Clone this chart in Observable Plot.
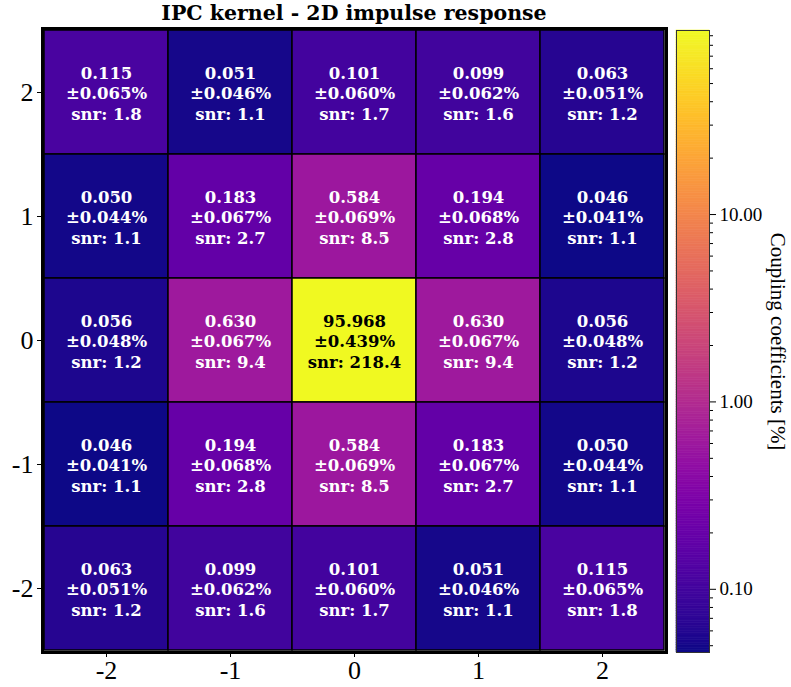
<!DOCTYPE html>
<html>
<head>
<meta charset="utf-8">
<script src="https://cdn.jsdelivr.net/npm/d3@7"></script>
<script src="https://cdn.jsdelivr.net/npm/@observablehq/plot@0.6"></script>
<style>
  html, body { margin: 0; padding: 0; background: white; }
  #wrap { position: relative; width: 791px; height: 687px; overflow: hidden; }
  #title { position: absolute; left: 42px; width: 624px; top: 3px; text-align: center; line-height: 1;
           font-family: "DejaVu Serif", serif; font-weight: bold; font-size: 20.5px; color: #000; }
  #main { position: absolute; left: 0; top: 0; }
  #cbar { position: absolute; left: 670px; top: 0; }
</style>
</head>
<body>
<div id="wrap">
  <div id="main"></div>
  <div id="cbar"></div>
  <div id="title">IPC kernel - 2D impulse response</div>
</div>
<script>
// ---- data (rows top to bottom: y = 2 .. -2; columns x = -2 .. 2) ----
const xCats = [-2, -1, 0, 1, 2];
const yCats = [2, 1, 0, -1, -2];
const coeffs = [
  [0.115, 0.051, 0.101, 0.099, 0.063],
  [0.050, 0.183, 0.584, 0.194, 0.046],
  [0.056, 0.630, 95.968, 0.630, 0.056],
  [0.046, 0.194, 0.584, 0.183, 0.050],
  [0.063, 0.099, 0.101, 0.051, 0.115]
];
const errs = [
  [0.065, 0.046, 0.060, 0.062, 0.051],
  [0.044, 0.067, 0.069, 0.068, 0.041],
  [0.048, 0.067, 0.439, 0.067, 0.048],
  [0.041, 0.068, 0.069, 0.067, 0.044],
  [0.051, 0.062, 0.060, 0.046, 0.065]
];
const snrs = [
  [1.8, 1.1, 1.7, 1.6, 1.2],
  [1.1, 2.7, 8.5, 2.8, 1.1],
  [1.2, 9.4, 218.4, 9.4, 1.2],
  [1.1, 2.8, 8.5, 2.7, 1.1],
  [1.2, 1.6, 1.7, 1.1, 1.8]
];
const cbarMajorTicks = [0.1, 1, 10];
const cbarLabel = "Coupling coefficients [%]";

// ---- build table ----
const cells = yCats.flatMap((y, i) => xCats.map((x, j) => ({
  x, y, v: coeffs[i][j], e: errs[i][j], s: snrs[i][j]
})));
const vmin = d3.min(cells, d => d.v);
const vmax = d3.max(cells, d => d.v);
const colorOpts = {type: "log", scheme: "plasma", domain: [vmin, vmax]};

const boldFont = "DejaVu Serif";
const regFont = "Liberation Serif";

const main = Plot.plot({
  width: 670, height: 687,
  marginLeft: 42, marginRight: 4, marginTop: 28, marginBottom: 35,
  x: {type: "band", domain: xCats, padding: 0, label: null},
  y: {type: "band", domain: yCats, padding: 0, label: null},
  color: colorOpts,
  style: {background: "white", fontFamily: regFont},
  marks: [
    Plot.cell(cells, {x: "x", y: "y", fill: "v", stroke: "black", strokeWidth: 1.5}),
    Plot.text(cells, {
      x: "x", y: "y",
      text: d => `${d.v.toFixed(3)}\n±${d.e.toFixed(3)}%\nsnr: ${d.s.toFixed(1)}`,
      fill: d => d.v > 10 ? "black" : "white",
      fontSize: 16.5, fontWeight: "bold", fontFamily: boldFont, lineHeight: 1.24
    }),
    Plot.frame({stroke: "black", strokeWidth: 3}),
    Plot.axisX({tickSize: 5, tickPadding: 3, fontSize: 26, fontFamily: regFont,
                tickFormat: d => String(d), label: null}),
    Plot.axisY({tickSize: 5, tickPadding: 4, fontSize: 26, fontFamily: regFont,
                tickFormat: d => String(d), label: null})
  ]
});
document.getElementById("main").appendChild(main);

// ---- colorbar ----
const N = 256;
const l0 = Math.log(vmin), l1 = Math.log(vmax);
const edges = d3.range(N + 1).map(i => Math.exp(l0 + (l1 - l0) * i / N));
const strips = d3.range(N).map(i => ({a: edges[i], b: edges[i + 1], m: Math.sqrt(edges[i] * edges[i + 1])}));
const minorTicks = [0.01, 0.1, 1, 10].flatMap(dec => d3.range(2, 10).map(k => k * dec))
  .filter(t => t >= vmin && t <= vmax);

const cbar = Plot.plot({
  width: 121, height: 687,
  marginLeft: 6, marginRight: 82, marginTop: 30, marginBottom: 35,
  y: {type: "log", domain: [vmin, vmax], label: null},
  color: colorOpts,
  style: {background: "transparent", fontFamily: regFont},
  marks: [
    Plot.rect(strips, {y1: "a", y2: "b", fill: "m", stroke: "m", strokeWidth: 0.6}),
    Plot.frame({stroke: "#333", strokeWidth: 1}),
    Plot.axisY(minorTicks, {anchor: "right", tickSize: 3, tickFormat: () => "", label: null}),
    Plot.axisY(cbarMajorTicks, {anchor: "right", tickSize: 6, tickPadding: 4, fontSize: 19,
                                fontFamily: regFont, tickFormat: d => d.toFixed(2), label: null}),
    Plot.text([cbarLabel], {frameAnchor: "right", dx: 68, rotate: 90, textAnchor: "middle",
                            fontSize: 21, fontFamily: regFont, fill: "black"})
  ]
});
document.getElementById("cbar").appendChild(cbar);
</script>
</body>
</html>
